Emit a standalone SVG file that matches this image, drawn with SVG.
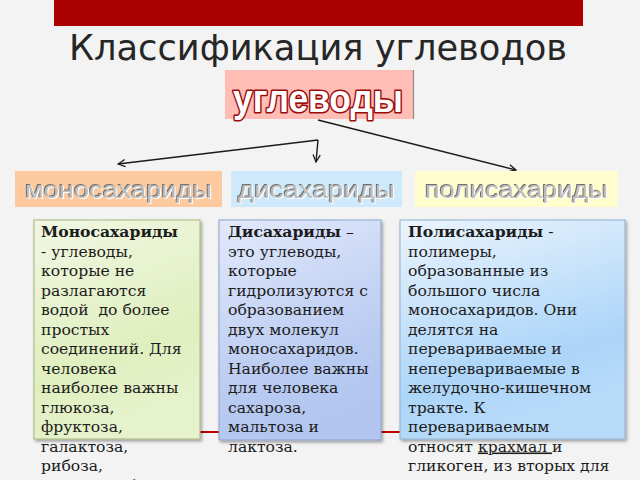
<svg xmlns="http://www.w3.org/2000/svg" width="640" height="480" viewBox="0 0 640 480">
<defs>
<style>
.title{font-family:"DejaVu Sans","Open Sans",sans-serif;font-size:35px;fill:#262626}
.main{font-family:"Liberation Sans",Arial,sans-serif;font-weight:bold;font-size:39px;fill:#fff;stroke:#9a0c0c;stroke-width:3.2px;paint-order:stroke;stroke-linejoin:round}
.cat{font-family:"Liberation Sans",Arial,sans-serif;font-size:23px;fill:#bdbdbd;filter:url(#emb)}
.body{font-family:"DejaVu Serif","Liberation Serif",serif;font-size:15.6px;fill:#1c1c1c}
.b{font-weight:bold}
.conn{fill:none;stroke:#1a1a1a;stroke-width:1.4}
</style>
<marker id="arr" viewBox="0 0 10 10" refX="9" refY="5" markerWidth="9" markerHeight="9" orient="auto" markerUnits="userSpaceOnUse">
<path d="M1,1 L9,5 L1,9" fill="none" stroke="#1a1a1a" stroke-width="1.4"/>
</marker>
<filter id="emb" x="-5%" y="-20%" width="110%" height="140%">
<feOffset in="SourceAlpha" dx="-0.8" dy="-0.8" result="o1"/>
<feFlood flood-color="#6e6e6e"/>
<feComposite in2="o1" operator="in" result="dark"/>
<feOffset in="SourceAlpha" dx="1.1" dy="1.1" result="o2"/>
<feFlood flood-color="#ffffff"/>
<feComposite in2="o2" operator="in" result="light"/>
<feMerge>
<feMergeNode in="dark"/>
<feMergeNode in="light"/>
<feMergeNode in="SourceGraphic"/>
</feMerge>
</filter>
<linearGradient id="gMono" x1="0" y1="0" x2="0.3" y2="1">
<stop offset="0" stop-color="#f1f7e3"/>
<stop offset="0.7" stop-color="#e0efbf"/>
<stop offset="1" stop-color="#e6f2cc"/>
</linearGradient>
<linearGradient id="gDi" x1="0" y1="0" x2="0.3" y2="1">
<stop offset="0" stop-color="#e2e9fb"/>
<stop offset="0.75" stop-color="#b9cbf1"/>
<stop offset="1" stop-color="#b2c6f0"/>
</linearGradient>
<linearGradient id="gPoly" x1="0" y1="0" x2="0.3" y2="1">
<stop offset="0" stop-color="#ebf4fd"/>
<stop offset="0.75" stop-color="#acd5f8"/>
<stop offset="1" stop-color="#b8dbf9"/>
</linearGradient>
<filter id="sh" x="-10%" y="-10%" width="130%" height="130%">
<feDropShadow dx="1.5" dy="2" stdDeviation="1.5" flood-color="#000" flood-opacity="0.35"/>
</filter>
</defs>

<rect x="0" y="0" width="640" height="480" fill="#f3f3f3"/>
<rect x="54" y="0" width="529" height="26" fill="#aa0000"/>
<text class="title" x="318" y="60" text-anchor="middle" textLength="498" lengthAdjust="spacingAndGlyphs">Классификация углеводов</text>

<line x1="195" y1="432" x2="405" y2="432" stroke="#c00000" stroke-width="2"/>

<g id="node-uglevody">
<rect x="225" y="70" width="188" height="49" fill="#ffbdb6"/>
<line x1="413.5" y1="70" x2="413.5" y2="119" stroke="#8a8a8a" stroke-width="1.2"/>
<text class="main" x="318" y="112" text-anchor="middle" textLength="170" lengthAdjust="spacingAndGlyphs">углеводы</text>
</g>

<g id="connectors">
<path class="conn" d="M318,120 L516,170" marker-end="url(#arr)"/>
<path class="conn" d="M318,140 L118,164" marker-end="url(#arr)"/>
<path class="conn" d="M318,140 L316,162" marker-end="url(#arr)"/>
</g>

<g id="node-mono-cat">
<rect x="15" y="171" width="207" height="36" fill="#fdc99f"/>
<text class="cat" x="118.5" y="197.5" text-anchor="middle" textLength="187" lengthAdjust="spacingAndGlyphs">моносахариды</text>
</g>

<g id="node-di-cat">
<rect x="231" y="171" width="171" height="36" fill="#cde9fb"/>
<text class="cat" x="316.5" y="197.5" text-anchor="middle" textLength="157" lengthAdjust="spacingAndGlyphs">дисахариды</text>
</g>

<g id="node-poly-cat">
<rect x="415" y="171" width="203" height="36" fill="#fffdcc"/>
<text class="cat" x="516.5" y="197.5" text-anchor="middle" textLength="183" lengthAdjust="spacingAndGlyphs">полисахариды</text>
</g>

<g id="node-mono-desc">
<rect x="34" y="220" width="166" height="219" fill="url(#gMono)" stroke="#a8b57a" stroke-width="1" filter="url(#sh)"/>
<text class="body" x="41">
<tspan x="41" y="237" class="b">Моносахариды</tspan>
<tspan x="41" y="256.5">- углеводы,</tspan>
<tspan x="41" y="276">которые не</tspan>
<tspan x="41" y="295.5">разлагаются</tspan>
<tspan x="41" y="315">водой&#160; до более</tspan>
<tspan x="41" y="334.5">простых</tspan>
<tspan x="41" y="354">соединений. Для</tspan>
<tspan x="41" y="373.5">человека</tspan>
<tspan x="41" y="393">наиболее важны</tspan>
<tspan x="41" y="412.5">глюкоза,</tspan>
<tspan x="41" y="432">фруктоза,</tspan>
<tspan x="41" y="451.5">галактоза,</tspan>
<tspan x="41" y="471">рибоза,</tspan>
<tspan x="41" y="490.5">дезоксирибоза</tspan>
</text>
</g>

<g id="node-di-desc">
<rect x="219" y="220" width="162" height="220" fill="url(#gDi)" stroke="#8ea3cc" stroke-width="1" filter="url(#sh)"/>
<text class="body" x="228">
<tspan x="228" y="237"><tspan class="b">Дисахариды</tspan> –</tspan>
<tspan x="228" y="256.5">это углеводы,</tspan>
<tspan x="228" y="276">которые</tspan>
<tspan x="228" y="295.5">гидролизуются с</tspan>
<tspan x="228" y="315">образованием</tspan>
<tspan x="228" y="334.5">двух молекул</tspan>
<tspan x="228" y="354">моносахаридов.</tspan>
<tspan x="228" y="373.5">Наиболее важны</tspan>
<tspan x="228" y="393">для человека</tspan>
<tspan x="228" y="412.5">сахароза,</tspan>
<tspan x="228" y="432">мальтоза и</tspan>
<tspan x="228" y="451.5">лактоза.</tspan>
</text>
</g>

<g id="node-poly-desc">
<rect x="400" y="220" width="225" height="219" fill="url(#gPoly)" stroke="#8cb2d4" stroke-width="1" filter="url(#sh)"/>
<text class="body" x="408">
<tspan x="408" y="237"><tspan class="b">Полисахариды</tspan> -</tspan>
<tspan x="408" y="256.5">полимеры,</tspan>
<tspan x="408" y="276">образованные из</tspan>
<tspan x="408" y="295.5">большого числа</tspan>
<tspan x="408" y="315">моносахаридов. Они</tspan>
<tspan x="408" y="334.5">делятся на</tspan>
<tspan x="408" y="354">перевариваемые и</tspan>
<tspan x="408" y="373.5">неперевариваемые в</tspan>
<tspan x="408" y="393">желудочно-кишечном</tspan>
<tspan x="408" y="412.5">тракте. К</tspan>
<tspan x="408" y="432">перевариваемым</tspan>
<tspan x="408" y="451.5">относят <tspan text-decoration="underline">крахмал </tspan>и</tspan>
<tspan x="408" y="471">гликоген, из вторых для</tspan>
</text>
</g>
</svg>
